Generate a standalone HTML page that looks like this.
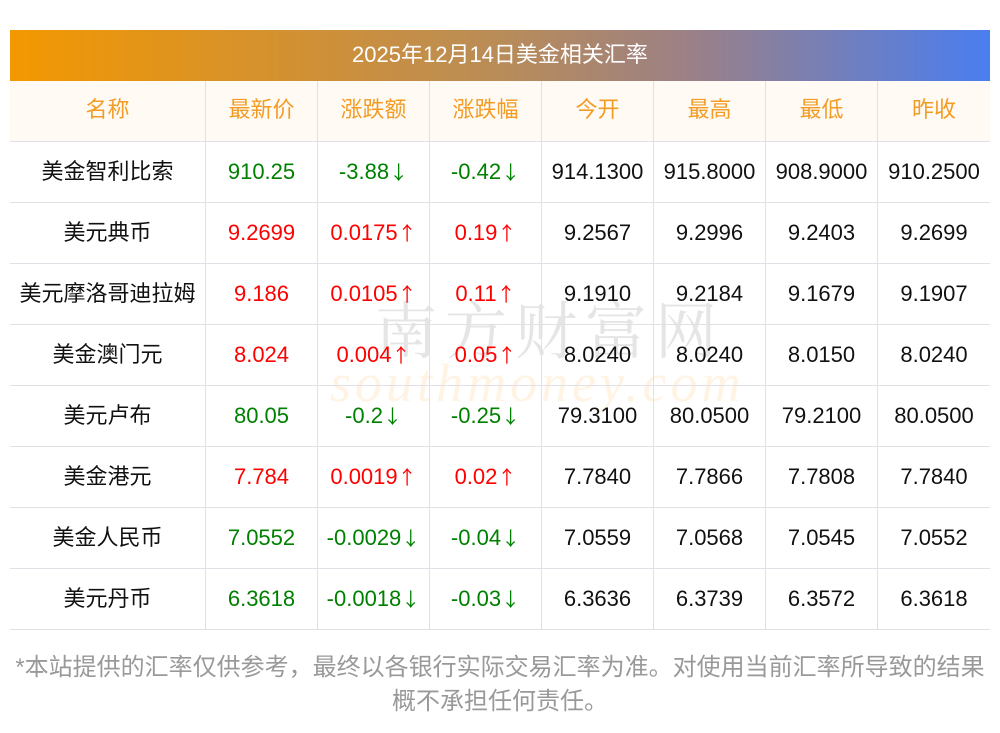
<!DOCTYPE html>
<html><head><meta charset="utf-8"><style>
body{margin:0;width:1000px;height:733px;background:#fff;font-family:"Liberation Sans","Noto Sans CJK SC",sans-serif;position:relative;overflow:hidden}
.title{position:absolute;left:10px;top:30px;width:980px;height:51px;background:linear-gradient(90deg,#f39800,#b98c58 50%,#9a8088 70%,#4a7ef0);color:#fff;font-size:22px;line-height:49px;text-align:center}
.tb{position:absolute;left:10px;top:81px;width:980px}
.row{display:flex;height:61px;border-bottom:1px solid #e0e0e6;box-sizing:border-box}
.row>div{box-sizing:border-box;height:60px;line-height:60px;text-align:center;font-size:22px;color:#111;white-space:nowrap;overflow:hidden;border-left:1px solid #e0e0e6}
.row>div:first-child{border-left:none;width:195px}
.row>div{width:112px}
.row>div:last-child{width:113px}
.hd{background:#fffaf3}
.hd>div{color:#f39c25!important;line-height:57px}
.g{color:#008000!important}.r{color:#ff0000!important}
i{font-style:normal;font-family:"Noto Sans CJK SC",sans-serif;font-size:19px;line-height:1}
.wm{position:absolute;font-size:62px;color:rgba(150,150,150,.25);left:375px;top:290px;letter-spacing:8px;font-family:"Noto Serif CJK SC",serif;line-height:1.2}
.wm2{position:absolute;font-size:54px;color:rgba(255,200,120,.2);left:330px;top:352px;font-style:italic;font-family:"Liberation Serif",serif;letter-spacing:4px}
.foot{position:absolute;left:0;top:651px;width:1000px;text-align:center;color:#999;font-size:24px;line-height:34px}
</style></head><body>
<div class="wm">南方财富网</div>
<div class="wm2">southmoney.com</div>
<div class="title">2025年12月14日美金相关汇率</div>
<div class="tb">
<div class="row hd"><div>名称</div><div>最新价</div><div>涨跌额</div><div>涨跌幅</div><div>今开</div><div>最高</div><div>最低</div><div>昨收</div></div>
<div class="row"><div>美金智利比索</div><div class="g">910.25</div><div class="g">-3.88<i>↓</i></div><div class="g">-0.42<i>↓</i></div><div>914.1300</div><div>915.8000</div><div>908.9000</div><div>910.2500</div></div>
<div class="row"><div>美元典币</div><div class="r">9.2699</div><div class="r">0.0175<i>↑</i></div><div class="r">0.19<i>↑</i></div><div>9.2567</div><div>9.2996</div><div>9.2403</div><div>9.2699</div></div>
<div class="row"><div>美元摩洛哥迪拉姆</div><div class="r">9.186</div><div class="r">0.0105<i>↑</i></div><div class="r">0.11<i>↑</i></div><div>9.1910</div><div>9.2184</div><div>9.1679</div><div>9.1907</div></div>
<div class="row"><div>美金澳门元</div><div class="r">8.024</div><div class="r">0.004<i>↑</i></div><div class="r">0.05<i>↑</i></div><div>8.0240</div><div>8.0240</div><div>8.0150</div><div>8.0240</div></div>
<div class="row"><div>美元卢布</div><div class="g">80.05</div><div class="g">-0.2<i>↓</i></div><div class="g">-0.25<i>↓</i></div><div>79.3100</div><div>80.0500</div><div>79.2100</div><div>80.0500</div></div>
<div class="row"><div>美金港元</div><div class="r">7.784</div><div class="r">0.0019<i>↑</i></div><div class="r">0.02<i>↑</i></div><div>7.7840</div><div>7.7866</div><div>7.7808</div><div>7.7840</div></div>
<div class="row"><div>美金人民币</div><div class="g">7.0552</div><div class="g">-0.0029<i>↓</i></div><div class="g">-0.04<i>↓</i></div><div>7.0559</div><div>7.0568</div><div>7.0545</div><div>7.0552</div></div>
<div class="row"><div>美元丹币</div><div class="g">6.3618</div><div class="g">-0.0018<i>↓</i></div><div class="g">-0.03<i>↓</i></div><div>6.3636</div><div>6.3739</div><div>6.3572</div><div>6.3618</div></div>
</div>
<div class="foot">*本站提供的汇率仅供参考，最终以各银行实际交易汇率为准。对使用当前汇率所导致的结果<br>概不承担任何责任。</div>
</body></html>
